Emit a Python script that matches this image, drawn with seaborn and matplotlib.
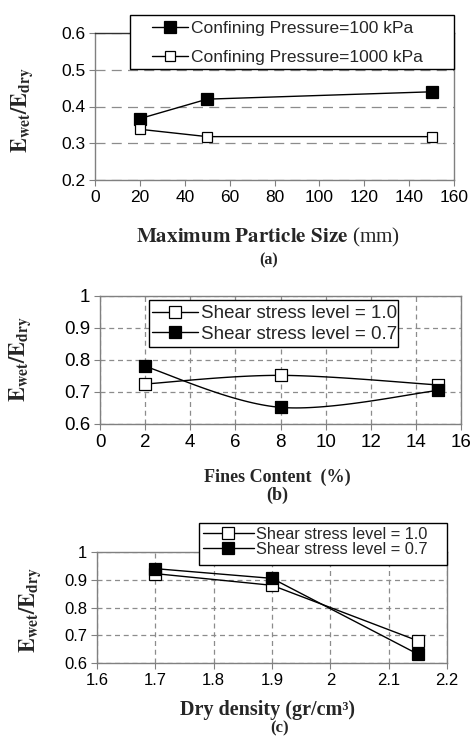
import numpy as np
import pandas as pd
import matplotlib
matplotlib.use("Agg")
import matplotlib.pyplot as plt
from matplotlib.lines import Line2D
from matplotlib.patches import Rectangle
from matplotlib.ticker import FuncFormatter, MultipleLocator
import seaborn as sns

# ---------------- data ----------------
# (a)
size_mm = [20, 50, 150]
a_p100 = [0.367, 0.420, 0.440]
a_p1000 = [0.338, 0.318, 0.318]
a_labels = ["Confining Pressure=100 kPa", "Confining Pressure=1000 kPa"]
# (b)
fines = [2, 8, 15]
b_ssl10 = [0.725, 0.752, 0.722]
b_ssl07 = [0.780, 0.652, 0.705]
# (c)
density = [1.7, 1.9, 2.15]
c_ssl10 = [0.922, 0.880, 0.680]
c_ssl07 = [0.940, 0.905, 0.632]
ssl_labels = ["Shear stress level = 1.0", "Shear stress level = 0.7"]

sns.set_theme(style="white")
plt.rcParams["font.family"] = ["Liberation Sans", "DejaVu Sans"]
plt.rcParams["mathtext.fontset"] = "stix"

W, H = 471, 736
fig = plt.figure(figsize=(W / 100, H / 100), dpi=100)


def box(l, t, r, b):
    return [l / W, 1 - b / H, (r - l) / W, (b - t) / H]


def smooth(x, y, ax_rng, n=40):
    # Excel-style smoothed line (Catmull-Rom Bezier) through the points
    (x0, x1), (y0, y1) = ax_rng
    P = np.column_stack([(np.array(x) - x0) / (x1 - x0), (np.array(y) - y0) / (y1 - y0)])
    Pp = np.vstack([P[0], P, P[-1]])
    out = []
    for i in range(len(P) - 1):
        p0, p3 = Pp[i + 1], Pp[i + 2]
        c1 = p0 + (Pp[i + 2] - Pp[i]) / 6
        c2 = p3 - (Pp[i + 3] - Pp[i + 1]) / 6
        t = np.linspace(0, 1, n)[:, None]
        seg = (1 - t) ** 3 * p0 + 3 * (1 - t) ** 2 * t * c1 + 3 * (1 - t) * t ** 2 * c2 + t ** 3 * p3
        out.append(seg)
    S = np.vstack(out)
    return S[:, 0] * (x1 - x0) + x0, S[:, 1] * (y1 - y0) + y0


fmt = FuncFormatter(lambda v, p: f"{v:g}")
spine_c = "#808080"
grid_c = "#8c8c8c"


def style_axes(ax, xlim, ylim, xstep, ystep, both_grid, dash, fs):
    ax.set_xlim(*xlim)
    ax.set_ylim(*ylim)
    ax.xaxis.set_major_locator(MultipleLocator(xstep))
    ax.yaxis.set_major_locator(MultipleLocator(ystep))
    ax.xaxis.set_major_formatter(fmt)
    ax.yaxis.set_major_formatter(fmt)
    for s in ax.spines.values():
        s.set_color(spine_c)
        s.set_linewidth(1.0)
    ax.tick_params(axis="both", direction="out", length=4, width=0.8, color=spine_c,
                   labelsize=fs, labelcolor="black", pad=3, bottom=True, left=True)
    ax.grid(False)
    ax.yaxis.grid(True, color=grid_c, linestyle=dash, linewidth=0.9)
    if both_grid:
        ax.xaxis.grid(True, color=grid_c, linestyle=dash, linewidth=0.9)
    ax.set_axisbelow(True)
    ax.set_xlabel("")
    ax.set_ylabel("")


def handle(fill, ms):
    return Line2D([], [], color="black", lw=1.0, marker="s", ms=ms,
                  mfc=fill, mec="black", mew=0.9)


def legend_box(handles, labels, frame, hx, hy, fs, hl, sp):
    l, t, r, b = frame
    fig.patches.append(Rectangle((l / W, 1 - b / H), (r - l) / W, (b - t) / H,
                                 transform=fig.transFigure, facecolor="white",
                                 edgecolor="black", linewidth=1.0, zorder=5))
    lg = fig.legend(handles, labels, loc="center left", bbox_to_anchor=(hx / W, 1 - hy / H),
                    bbox_transform=fig.transFigure, fontsize=fs, frameon=False,
                    handlelength=hl, handletextpad=0.15, labelspacing=sp,
                    borderpad=0, borderaxespad=0)
    lg.set_zorder(6)
    return lg


ylab = r"$\mathbf{E}_{\mathbf{wet}}\mathbf{/E}_{\mathbf{dry}}$"

# ---------------- (a) ----------------
ax1 = fig.add_axes(box(95, 33, 454, 180))
da = pd.DataFrame({"x": size_mm * 2, "y": a_p100 + a_p1000,
                   "s": [a_labels[0]] * 3 + [a_labels[1]] * 3})
sns.lineplot(data=da[da.s == a_labels[0]], x="x", y="y", ax=ax1, color="black", lw=1.0,
             marker="s", ms=8, mfc="black", mec="black", mew=0.9, legend=False)
sns.lineplot(data=da[da.s == a_labels[1]], x="x", y="y", ax=ax1, color="black", lw=1.0,
             marker="s", ms=7, mfc="white", mec="black", mew=0.9, legend=False)
style_axes(ax1, (0, 160), (0.2, 0.6), 20, 0.1, False, (0, (8, 5)), 12.5)
ax1.spines["top"].set_color("#303030")
legend_box([handle("black", 8), handle("white", 7)], a_labels,
           (130, 15, 454, 69), 152, 43, 12.5, 2.1, 0.75)

fig.text(22 / W, 1 - 110 / H, ylab, rotation=90, ha="center", va="center", fontsize=16)
fig.text(268 / W, 1 - 237 / H, r"$\mathbf{Maximum\ Particle\ Size}$ (mm)",
         ha="center", va="center", fontsize=15.2, family="Liberation Serif")
fig.text(269 / W, 1 - 260 / H, "(a)", ha="center", va="center", fontsize=11.5,
         family="Liberation Serif", weight="bold")

# ---------------- (b) ----------------
ax2 = fig.add_axes(box(100, 296, 461, 424))
rng_b = ((0, 16), (0.6, 1.0))
for yv, fill in [(b_ssl10, "white"), (b_ssl07, "black")]:
    sx, sy = smooth(fines, yv, rng_b)
    sns.lineplot(x=sx, y=sy, ax=ax2, color="black", lw=1.0, sort=False, estimator=None,
                 legend=False)
    sns.scatterplot(x=fines, y=yv, ax=ax2, marker="s", s=75, color=fill,
                    edgecolor="black", linewidth=0.9, legend=False, zorder=3)
style_axes(ax2, (0, 16), (0.6, 1.0), 2, 0.1, True, (0, (4, 3)), 13.5)
legend_box([handle("white", 8.5), handle("black", 8.5)], ssl_labels,
           (149, 300, 398, 347), 152, 324, 13.5, 2.45, 0.2)

fig.text(20 / W, 1 - 359 / H, ylab, rotation=90, ha="center", va="center", fontsize=16)
fig.text(277 / W, 1 - 477 / H, "Fines Content  (%)", ha="center", va="center",
         fontsize=13, family="Liberation Serif", weight="bold")
fig.text(277 / W, 1 - 495 / H, "(b)", ha="center", va="center", fontsize=13,
         family="Liberation Serif", weight="bold")

# ---------------- (c) ----------------
ax3 = fig.add_axes(box(97, 552, 447, 663))
for yv, fill in [(c_ssl10, "white"), (c_ssl07, "black")]:
    sns.lineplot(x=density, y=yv, ax=ax3, color="black", lw=1.0, marker="s", ms=8.5,
                 mfc=fill, mec="black", mew=0.9, legend=False)
style_axes(ax3, (1.6, 2.2), (0.6, 1.0), 0.1, 0.1, True, (0, (4, 3)), 12)
legend_box([handle("white", 8.5), handle("black", 8.5)], ssl_labels,
           (199, 523, 447, 565), 203, 542, 11.8, 3.1, 0.0)

fig.text(30 / W, 1 - 610 / H, ylab, rotation=90, ha="center", va="center", fontsize=16)
fig.text(268 / W, 1 - 710 / H, "Dry density (gr/cm³)", ha="center", va="center",
         fontsize=14.5, family="Liberation Serif", weight="bold")
fig.text(280 / W, 1 - 728 / H, "(c)", ha="center", va="center", fontsize=12,
         family="Liberation Serif", weight="bold")

fig.savefig("out.png", dpi=100)
